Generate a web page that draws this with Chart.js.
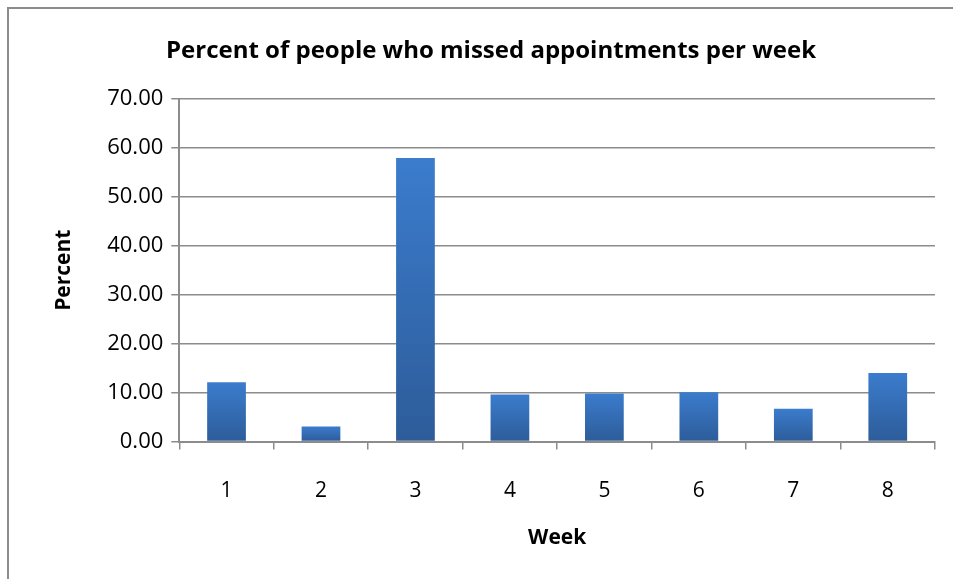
<!DOCTYPE html>
<html>
<head>
<meta charset="utf-8">
<script src="https://cdn.jsdelivr.net/npm/chart.js@4.4.1/dist/chart.umd.min.js"></script>
<style>
  html, body { margin: 0; padding: 0; background: #fff; }
  #wrap { width: 953px; height: 579px; position: relative; }
</style>
</head>
<body>
<div id="wrap"><canvas id="content" width="953" height="579"></canvas></div>
<script>
// values
var weeks = ["1", "2", "3", "4", "5", "6", "7", "8"];
var percents = [12.1, 3.1, 57.9, 9.6, 9.8, 10.1, 6.7, 14.0];
var yTicks = [0, 10, 20, 30, 40, 50, 60, 70];

var chartTitle = "Percent of people who missed appointments per week";
var xTitle = "Week";
var yTitle = "Percent";

var fontFamily = "'Open Sans', Lato, sans-serif";
var gridColor = "#8c8c8c";

// frame around the whole chart, like the original picture
var framePlugin = {
    id: "frame",
    beforeDraw: function (chart) {
        var ctx = chart.ctx;
        ctx.save();
        ctx.fillStyle = "#fff";
        ctx.fillRect(0, 0, chart.width, chart.height);
        ctx.strokeStyle = "#8c8c8c";
        ctx.lineWidth = 2;
        ctx.strokeRect(8, 8, chart.width + 20, chart.height + 20);
        ctx.restore();
    }
};

function barFill(context) {
    var chart = context.chart;
    var area = chart.chartArea;
    if (!area || !chart.scales.y) return "#3a7bcc";
    var top = chart.scales.y.getPixelForValue(percents[context.dataIndex]);
    var g = chart.ctx.createLinearGradient(0, top, 0, area.bottom);
    g.addColorStop(0, "#3b7ccd");
    g.addColorStop(1, "#2d5c99");
    return g;
}

var ctx = document.getElementById("content").getContext("2d");
new Chart(ctx, {
    type: "bar",
    data: {
        labels: weeks,
        datasets: [{
            label: yTitle,
            data: percents,
            backgroundColor: barFill,
            borderWidth: 0,
            barPercentage: 0.41,
            categoryPercentage: 1
        }]
    },
    options: {
        responsive: false,
        animation: false,
        layout: { padding: { left: 47, right: 18, top: 20, bottom: 24 } },
        plugins: {
            legend: { display: false },
            tooltip: { enabled: false },
            title: {
                display: true,
                text: chartTitle,
                color: "#000",
                font: { family: fontFamily, size: 24, weight: "bold" },
                padding: { top: 17, bottom: 33 }
            }
        },
        scales: {
            x: {
                offset: true,
                grid: {
                    offset: true,
                    drawOnChartArea: false,
                    color: gridColor,
                    lineWidth: 1.5,
                    tickLength: 8
                },
                border: { color: gridColor, width: 2 },
                ticks: {
                    color: "#000",
                    padding: 29,
                    font: { family: fontFamily, size: 21 }
                },
                title: {
                    display: true,
                    text: xTitle,
                    color: "#000",
                    padding: { top: -7 },
                    font: { family: fontFamily, size: 21, weight: "bold" }
                }
            },
            y: {
                min: 0,
                max: 70,
                afterBuildTicks: function (axis) {
                    axis.ticks = yTicks.map(function (v) { return { value: v }; });
                },
                grid: {
                    color: gridColor,
                    lineWidth: 1.5,
                    tickLength: 8
                },
                border: { color: gridColor, width: 2 },
                ticks: {
                    color: "#000",
                    padding: 8,
                    font: { family: fontFamily, size: 22 },
                    callback: function (v) { return Number(v).toFixed(2); }
                },
                title: {
                    display: true,
                    text: yTitle,
                    color: "#000",
                    padding: { bottom: 23 },
                    font: { family: fontFamily, size: 21, weight: "bold" }
                }
            }
        }
    },
    plugins: [framePlugin]
});
</script>
</body>
</html>
